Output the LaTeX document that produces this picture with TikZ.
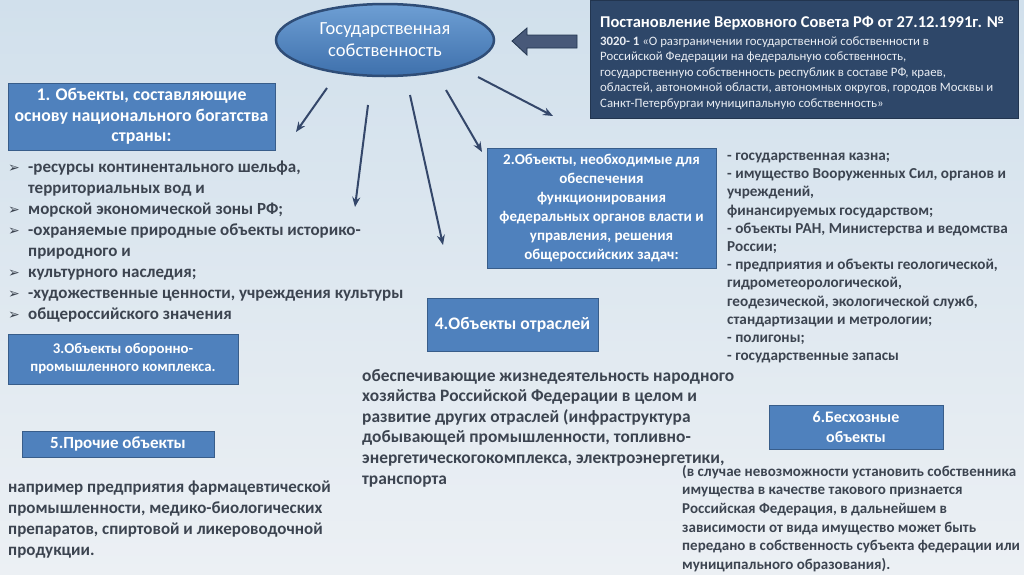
\documentclass[tikz,border=0pt]{standalone}
\usepackage{fontspec}
\setmainfont{Carlito}
\newfontfamily\symfont{DejaVu Sans}
\usetikzlibrary{arrows.meta,shapes.geometric}
\definecolor{bgtop}{HTML}{D1E0EC}
\definecolor{bgbot}{HTML}{ECF0F4}
\definecolor{boxfill}{HTML}{4F81BD}
\definecolor{boxline}{HTML}{385D8A}
\definecolor{navy}{HTML}{2E4769}
\definecolor{navyline}{HTML}{22354F}
\definecolor{txt}{HTML}{3C4450}
\definecolor{arrcol}{HTML}{34476A}
\definecolor{elltop}{HTML}{6E9FD4}
\definecolor{ellbot}{HTML}{3E70AC}
\definecolor{ellline}{HTML}{2F4D77}
\definecolor{paper}{HTML}{E9EDF3}
\newcommand\bul{\makebox[20pt][l]{\symfont\fontsize{14}{14}\selectfont ➢}}
\newcommand\ind{\hspace*{20pt}}
\tikzset{
 bluebox/.style={draw=boxline, fill=boxfill, line width=1pt, text=white, align=center, inner sep=0pt},
 body/.style={text=txt, align=left, inner sep=0pt, anchor=north west},
 arr/.style={draw=arrcol, line width=2pt, -{Stealth[length=10pt,width=8pt]}},
}
\begin{document}
\begin{tikzpicture}[x=1pt,y=-1pt]
\shade[top color=bgtop, bottom color=bgbot] (0,0) rectangle (1024,574);
\useasboundingbox (0,0) rectangle (1024,574);

% central ellipse
\node[ellipse, draw=ellline, line width=2.5pt, top color=elltop, bottom color=ellbot,
      minimum width=218pt, minimum height=72pt, text=white, align=center, inner sep=0pt,
      font=\fontsize{18.5}{22}\selectfont] (ell) at (385,40) {Государственная\\собственность};

% decree box
\node[draw=navyline, fill=navy, line width=1pt, minimum width=428pt, minimum height=118pt, inner sep=0pt] (dec) at (804,59) {};
\node[text=white, align=left, inner sep=0pt, anchor=north west, font=\bfseries\fontsize{16.5}{18}\selectfont] (dect) at (600,15)
 {\strut Постановление Верховного Совета РФ от 27.12.1991г. №};
\node[text=paper, align=left, inner sep=0pt, anchor=north west, font=\fontsize{12.8}{15.6}\selectfont] (decb) at (600,34)
 {\strut\textbf{3020- 1} «О разграничении государственной собственности в\\
 Российской Федерации на федеральную собственность,\\
 государственную собственность республик в составе РФ, краев,\\
 областей, автономной области, автономных округов, городов Москвы и\\
 Санкт-Петербургаи муниципальную собственность»};

% fat arrow
\filldraw[fill=arrcol!90!white, draw=navyline, line width=0.8pt]
 (512,41) -- (527,28) -- (527,35) -- (577,35) -- (577,48) -- (527,48) -- (527,55) -- cycle;

% box 1
\node[bluebox, minimum width=267pt, minimum height=67pt, font=\bfseries\fontsize{17.8}{20.5}\selectfont] (b1) at (141.5,116.5)
 {1. Объекты, составляющие\\основу национального богатства\\страны:};
\node[body, font=\bfseries\fontsize{17}{21}\selectfont] (l1) at (8,158)
 {\strut\bul -ресурсы континентального шельфа,\\
 \ind территориальных вод и\\
 \bul морской экономической зоны РФ;\\
 \bul -охраняемые природные объекты историко-\\
 \ind природного и\\
 \bul культурного наследия;\\
 \bul -художественные ценности, учреждения культуры\\
 \bul общероссийского значения};

% box 2
\node[bluebox, minimum width=229pt, minimum height=120pt, font=\bfseries\fontsize{15}{19}\selectfont] (b2) at (601.5,208)
 {2.Объекты, необходимые для\\обеспечения\\функционирования\\федеральных органов власти и\\управления, решения\\общероссийских задач:};
\node[body, font=\bfseries\fontsize{15.2}{18.2}\selectfont] (l2) at (727,147.5)
 {\strut - государственная казна;\\
 - имущество Вооруженных Сил, органов и\\
 учреждений,\\
 финансируемых государством;\\
 - объекты РАН, Министерства и ведомства\\
 России;\\
 - предприятия и объекты геологической,\\
 гидрометеорологической,\\
 геодезической, экологической служб,\\
 стандартизации и метрологии;\\
 - полигоны;\\
 - государственные запасы};

% box 3
\node[bluebox, minimum width=230pt, minimum height=50pt, font=\bfseries\fontsize{14.8}{18}\selectfont] (b3) at (123,359)
 {3.Объекты оборонно-\\промышленного комплекса.};

% box 4
\node[bluebox, minimum width=171pt, minimum height=53pt, font=\bfseries\fontsize{17.6}{20}\selectfont] (b4) at (512.5,324.5)
 {4.Объекты отраслей};
\node[body, font=\bfseries\fontsize{17.4}{20.6}\selectfont] (l4) at (362,366.5)
 {\strut обеспечивающие жизнедеятельность народного\\
 хозяйства Российской Федерации в целом и\\
 развитие других отраслей (инфраструктура\\
 добывающей промышленности, топливно-\\
 энергетическогокомплекса, электроэнергетики,\\
 транспорта};

% box 5
\node[bluebox, minimum width=192pt, minimum height=26pt, font=\bfseries\fontsize{17}{19}\selectfont] (b5) at (118,444)
 {5.Прочие объекты};
\node[body, font=\bfseries\fontsize{17}{21}\selectfont] (l5) at (8,478)
 {\strut например предприятия фармацевтической\\
 промышленности, медико-биологических\\
 препаратов, спиртовой и ликероводочной\\
 продукции.};

% box 6
\node[bluebox, minimum width=174pt, minimum height=44pt, font=\bfseries\fontsize{16}{20}\selectfont] (b6) at (856,427)
 {6.Бесхозные\\объекты};
\node[body, font=\bfseries\fontsize{15}{18.6}\selectfont] (l6) at (682,463)
 {\strut (в случае невозможности установить собственника\\
 имущества в качестве такового признается\\
 Российская Федерация, в дальнейшем в\\
 зависимости от вида имущество может быть\\
 передано в собственность субъекта федерации или\\
 муниципального образования).};

% arrows from the ellipse
\coordinate (a1s) at (327,88);  \coordinate (a1e) at (296,132);
\coordinate (a2s) at (368,105); \coordinate (a2e) at (355,207);
\coordinate (a3s) at (410,95);  \coordinate (a3e) at (443,245);
\coordinate (a4s) at (446,90);  \coordinate (a4e) at (482,152);
\coordinate (a5s) at (478,77);  \coordinate (a5e) at (553,116);
\draw[arr] (a1s) -- (a1e);
\draw[arr] (a2s) -- (a2e);
\draw[arr] (a3s) -- (a3e);
\draw[arr] (a4s) -- (a4e);
\draw[arr] (a5s) -- (a5e);
\end{tikzpicture}
\end{document}
